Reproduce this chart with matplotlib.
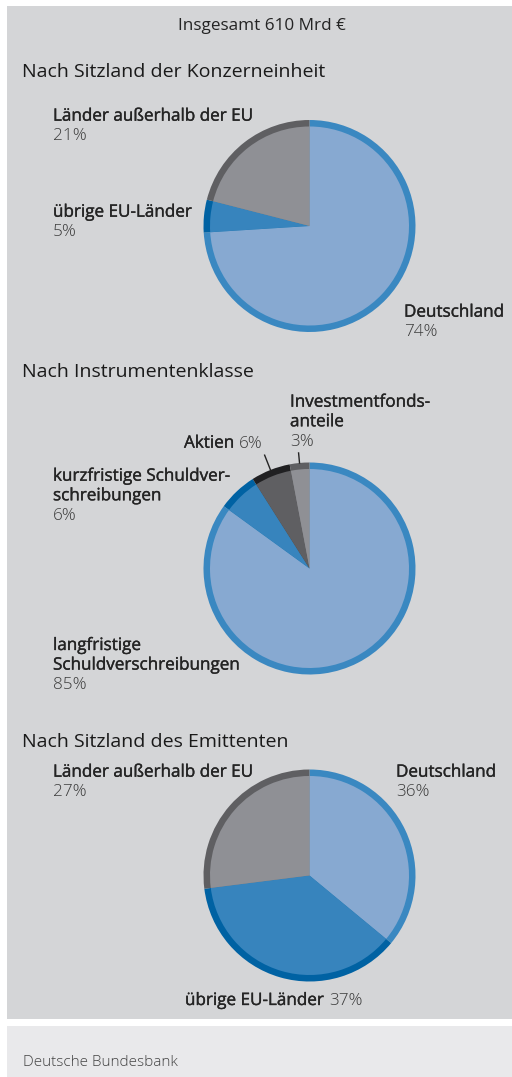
import numpy as np
import matplotlib
matplotlib.use("Agg")
import matplotlib.pyplot as plt
import matplotlib.patheffects as pe
from matplotlib.patches import Rectangle

plt.rcParams['font.family'] = ['Open Sans', 'DejaVu Sans']

# Daten
title = "Insgesamt 610 Mrd €"
source = "Deutsche Bundesbank"

sections = ["Nach Sitzland der Konzerneinheit",
            "Nach Instrumentenklasse",
            "Nach Sitzland des Emittenten"]

labels_1 = ["Deutschland", "übrige EU-Länder", "Länder außerhalb der EU"]
values_1 = [74, 5, 21]

labels_2 = ["langfristige\nSchuldverschreibungen", "kurzfristige Schuldver-\nschreibungen",
            "Aktien", "Investmentfonds-\nanteile"]
values_2 = [85, 6, 6, 3]

labels_3 = ["Deutschland", "übrige EU-Länder", "Länder außerhalb der EU"]
values_3 = [36, 37, 27]

# Farben: Füllung und Randring
fill_1 = ["#87a9d1", "#3784bd", "#8f9095"]
ring_1 = ["#3a88c1", "#0062a3", "#5f5f62"]
fill_2 = ["#87a9d1", "#3784bd", "#5f5f62", "#8f9095"]
ring_2 = ["#3a88c1", "#0062a3", "#202022", "#5f5f62"]

W, H = 512, 1077
fig = plt.figure(figsize=(W / 100, H / 100), dpi=100)
fig.patch.set_facecolor("white")

bg = fig.add_axes([0, 0, 1, 1])
bg.set_xlim(0, W)
bg.set_ylim(H, 0)
bg.axis("off")
bg.add_patch(Rectangle((7, 6), W - 7, 1013, color="#d4d5d7", lw=0))
bg.add_patch(Rectangle((7, 1026), W - 7, H - 1026, color="#e9e9eb", lw=0))

dark = "#242424"
grey = "#3c3c3c"
fs_lab = 12.3
fs_head = 14
pitch = 19.6
# etwas kräftiger als normal (Medium-Schnitt nachgebildet)
bolder = [pe.withStroke(linewidth=0.25, foreground=dark)]

bg.text(262, 30.5, title, ha="center", va="baseline", fontsize=12.3, color=dark)
bg.text(23, 1066, source, ha="left", va="baseline", fontsize=11, color="#444444",
        weight="light")

# Überschriften
for txt, y in zip(sections, [77.3, 377.3, 746.7]):
    bg.text(22, y, txt, ha="left", va="baseline", fontsize=fs_head, color="#1a1a1a")


def label(x, y, name, pct, inline=False):
    if inline:
        t = bg.text(x, y, name + " ", ha="left", va="baseline", fontsize=fs_lab,
                    color=dark, path_effects=bolder)
        fig.canvas.draw()
        bb = t.get_window_extent()
        x2 = bb.x1 * W / fig.bbox.width
        bg.text(x2, y, f"{pct}%", ha="left", va="baseline", fontsize=fs_lab,
                color=grey, weight="light")
        return
    lines = name.split("\n")
    for k, ln in enumerate(lines):
        bg.text(x, y + k * pitch, ln, ha="left", va="baseline", fontsize=fs_lab,
                color=dark, path_effects=bolder)
    bg.text(x, y + len(lines) * pitch, f"{pct}%", ha="left", va="baseline",
            fontsize=fs_lab, color=grey, weight="light")


def draw_pie(cx, cy, r, values, fills, rings):
    ax = fig.add_axes([(cx - r) / W, 1 - (cy + r) / H, 2 * r / W, 2 * r / H])
    ax.pie(values, colors=rings, startangle=90, counterclock=False, radius=1.0,
           wedgeprops=dict(linewidth=0))
    ax.pie(values, colors=fills, startangle=90, counterclock=False, radius=1 - 6.5 / r,
           wedgeprops=dict(linewidth=0))
    ax.set_xlim(-1, 1)
    ax.set_ylim(-1, 1)
    ax.axis("off")
    return ax


R = 106
draw_pie(309.5, 226, R, values_1, fill_1, ring_1)
ax2 = draw_pie(309.5, 568.5, R, values_2, fill_2, ring_2)
draw_pie(309.5, 875.5, R, values_3, fill_1, ring_1)

# Führungslinien für Aktien und Investmentfondsanteile
cum = np.cumsum(values_2) - np.array(values_2) / 2
for i, r2 in [(2, 1.15), (3, 1.095)]:
    a = np.deg2rad(90 - cum[i] / sum(values_2) * 360)
    ax2.plot([np.cos(a), r2 * np.cos(a)], [np.sin(a), r2 * np.sin(a)],
             color=dark, lw=1, clip_on=False)

# Beschriftungen Kreis 1
label(53, 120.7, labels_1[2], values_1[2])
label(53, 216.7, labels_1[1], values_1[1])
label(404, 316.7, labels_1[0], values_1[0])

# Kreis 2
label(290, 406.7, labels_2[3], values_2[3])
label(184, 447.7, labels_2[2], values_2[2], inline=True)
label(53, 480.7, labels_2[1], values_2[1])
label(53, 650, labels_2[0], values_2[0])

# Kreis 3
label(53, 776.7, labels_3[2], values_3[2])
label(396, 776.7, labels_3[0], values_3[0])
label(185, 1005, labels_3[1], values_3[1], inline=True)

fig.savefig("out.png", dpi=100, facecolor="white")
